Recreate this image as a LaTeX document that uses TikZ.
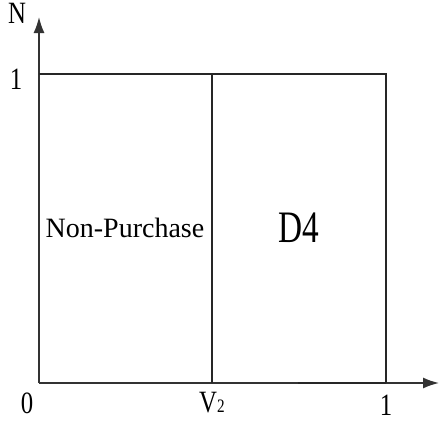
\documentclass[tikz,border=0pt]{standalone}
\usepackage{fontspec}
\setmainfont{Liberation Serif}
\usetikzlibrary{arrows.meta}
\begin{document}
\begin{tikzpicture}[x=1pt,y=-1pt,
  axis/.style={line width=1.6pt,draw=black!80,-{Latex[length=16pt,width=11pt]}},
  edge/.style={line width=1.3pt,draw=black!85},
  lbl/.style={inner sep=0pt,font=\fontsize{31}{33}\selectfont,xscale=0.8},
  region/.style={inner sep=0pt}]
\useasboundingbox (0,0) rectangle (439,423);
\coordinate (O) at (39,383);
\coordinate (Ytip) at (39,17);
\coordinate (Xtip) at (439,383);
\coordinate (TL) at (39,74);
\coordinate (TR) at (386,74);
\coordinate (BR) at (386,383);
\coordinate (VT) at (212,74);
\coordinate (VB) at (212,383);
\coordinate (TK) at (298,383);
\draw[axis] (O) -- (Ytip);
\draw[axis] (O) -- (Xtip);
\draw[edge] (TL) -- (TR) -- (BR);
\draw[edge] (VT) -- (VB);
\draw[line width=2.6pt,draw=black!85] (TK) -- (BR);
\node[lbl] (N) at (17,13) {N};
\node[lbl] (one) at (16,79) {1};
\node[lbl] (zero) at (27,403) {0};
\node[lbl] (V2) at (212,403) {V\raisebox{0pt}{\fontsize{19}{21}\selectfont 2}};
\node[lbl] (onex) at (386,405) {1};
\node[region,font=\fontsize{28}{30}\selectfont,xscale=1.0] (NP) at (125,228) {Non-Purchase};
\node[region,font=\fontsize{45}{47}\selectfont,xscale=0.74] (D4) at (299,228) {D4};
\end{tikzpicture}
\end{document}
